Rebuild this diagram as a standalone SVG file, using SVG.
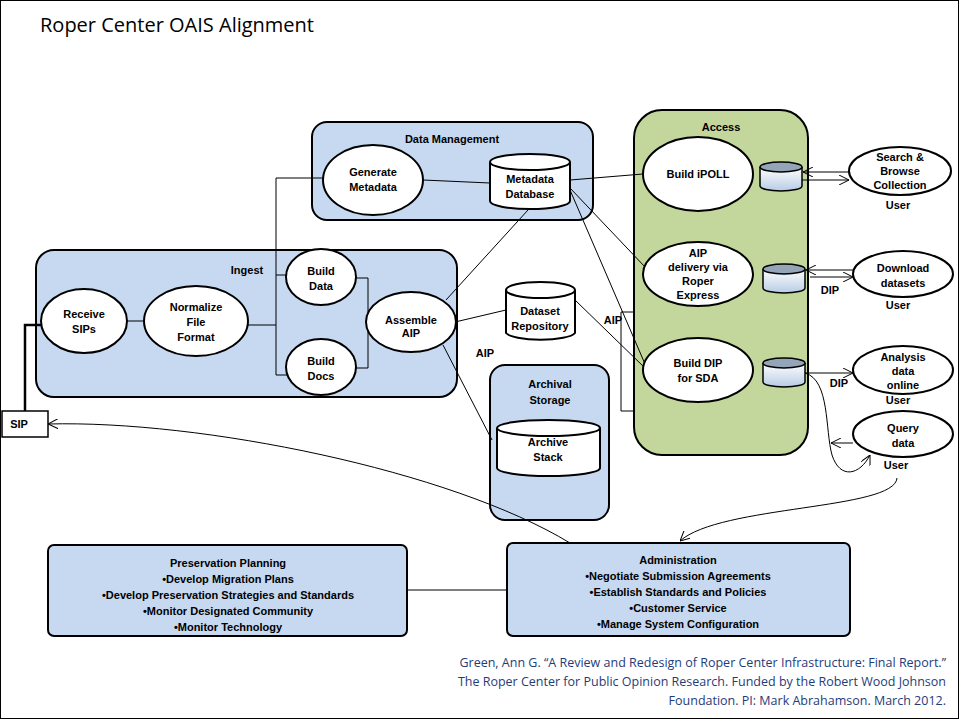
<svg xmlns="http://www.w3.org/2000/svg" width="960" height="720" viewBox="0 0 960 720">
<defs>
<linearGradient id="cg" x1="0" y1="0" x2="0" y2="1"><stop offset="0" stop-color="#ffffff"/><stop offset="1" stop-color="#b8cce4"/></linearGradient>
<marker id="ar" viewBox="0 0 10 10" refX="10" refY="5" markerWidth="10" markerHeight="10" orient="auto" markerUnits="userSpaceOnUse"><path d="M0,0 L10,5 L0,10" fill="none" stroke="#000" stroke-width="1"/></marker>
<style>
.box{fill:#c6d9f1;stroke:#000;stroke-width:2}
.el{fill:#fff;stroke:#000;stroke-width:2}
.t{font-family:"Liberation Sans",Arial,sans-serif;font-size:11px;font-weight:bold;text-anchor:middle;fill:#000}
.ln{fill:none;stroke:#000;stroke-width:1}
.cite{font-family:"Open Sans","Liberation Sans",sans-serif;font-size:12.5px;fill:#1f3c7a;text-anchor:end}
</style>
</defs>
<rect x="0" y="0" width="960" height="720" fill="#fff"/>
<rect x="0.5" y="0.5" width="958" height="718" fill="none" stroke="#000" stroke-width="1"/>
<text x="40" y="32" font-family="Open Sans,Liberation Sans,sans-serif" font-size="20" fill="#000">Roper Center OAIS Alignment</text>

<g id="datamgmt"><rect class="box" x="312" y="122" width="281" height="98" rx="15"/><text class="t" x="452" y="143">Data Management</text></g>
<g id="ingest"><rect class="box" x="36" y="250" width="421" height="147" rx="18"/><text class="t" x="247" y="274">Ingest</text></g>
<g id="archival"><rect class="box" x="490" y="365" width="119" height="155" rx="15"/><text class="t" x="550" y="388">Archival</text><text class="t" x="550" y="404">Storage</text></g>
<g id="access"><rect x="634" y="110" width="174" height="345" rx="28" fill="#c3d69b" stroke="#000" stroke-width="2"/><text class="t" x="721" y="131">Access</text></g>

<g id="connectors">
<path class="ln" d="M323,178 H276 V375 H287 M276,275 H287 M248,325 H276"/>
<path class="ln" d="M356,278 H368 V368 H356"/>
<path class="ln" d="M127,321 H144"/>
<path d="M25,411 V325 H41" fill="none" stroke="#000" stroke-width="2.5"/>
<path class="ln" d="M423,180 L490,183"/>
<path class="ln" d="M446,300 L528,210"/>
<path class="ln" d="M455,322 L506,310"/>
<path class="ln" d="M443,345 L492,440"/>
<path class="ln" d="M570,180 L643,174"/>
<path class="ln" d="M570,188 L646,268"/>
<path class="ln" d="M570,190 L645,364"/>
<path class="ln" d="M575,300 L645,368"/>
<path class="ln" d="M634,312 H621 V411 H634"/>
<path class="ln" d="M849,172 H803" marker-end="url(#ar)"/>
<path class="ln" d="M797,180 H849" marker-end="url(#ar)"/>
<path class="ln" d="M853,270 H806" marker-end="url(#ar)"/>
<path class="ln" d="M810,277 H853" marker-end="url(#ar)"/>
<path class="ln" d="M805,373 H853" marker-end="url(#ar)"/>
<path class="ln" d="M853,443 H831" marker-end="url(#ar)"/>
<path class="ln" d="M805,373 C830,380 825,430 832,455 C840,480 860,475 870,455" marker-end="url(#ar)"/>
<path class="ln" d="M897,478 C895,510 720,505 680,541" marker-end="url(#ar)"/>
<path class="ln" d="M570,543 C450,470 200,420 48,424" marker-end="url(#ar)"/>
<path class="ln" d="M407,590 H507"/>
</g>
<g id="labels">
<text class="t" x="485" y="357">AIP</text>
<text class="t" x="613" y="324">AIP</text>
<text class="t" x="830" y="294">DIP</text>
<text class="t" x="839" y="387">DIP</text>
</g>

<g id="gen"><ellipse class="el" cx="373" cy="180" rx="50" ry="35"/><text class="t" x="373" y="176">Generate</text><text class="t" x="373" y="191">Metadata</text></g>
<g id="metadb"><path class="el" d="M490,162 V201 A40,8 0 0 0 570,201 V162"/><ellipse class="el" cx="530" cy="162" rx="40" ry="8"/><text class="t" x="530" y="183">Metadata</text><text class="t" x="530" y="198">Database</text></g>
<g id="receive"><ellipse class="el" cx="84" cy="321" rx="43" ry="32"/><text class="t" x="84" y="318">Receive</text><text class="t" x="84" y="333">SIPs</text></g>
<g id="normalize"><ellipse class="el" cx="196" cy="321" rx="52" ry="35"/><text class="t" x="196" y="311">Normalize</text><text class="t" x="196" y="326">File</text><text class="t" x="196" y="341">Format</text></g>
<g id="builddata"><ellipse class="el" cx="321" cy="277" rx="35" ry="28"/><text class="t" x="321" y="275">Build</text><text class="t" x="321" y="290">Data</text></g>
<g id="builddocs"><ellipse class="el" cx="321" cy="367" rx="35" ry="28"/><text class="t" x="321" y="365">Build</text><text class="t" x="321" y="380">Docs</text></g>
<g id="assemble"><ellipse class="el" cx="411" cy="322" rx="45" ry="30"/><text class="t" x="411" y="324" font-size="10">Assemble</text><text class="t" x="411" y="337" font-size="10">AIP</text></g>
<g id="dataset"><path class="el" d="M506,290 V333 A35,8 0 0 0 575,333 V290"/><ellipse class="el" cx="540.5" cy="290" rx="34.5" ry="8"/><text class="t" x="540" y="315">Dataset</text><text class="t" x="540" y="330">Repository</text></g>
<g id="archstack"><path class="el" d="M497,428 V468 A51.5,8 0 0 0 600,468 V428"/><ellipse class="el" cx="548.5" cy="428" rx="51.5" ry="8"/><text class="t" x="548" y="446">Archive</text><text class="t" x="548" y="461">Stack</text></g>
<g id="sip"><rect x="2" y="411" width="46" height="26" fill="#fff" stroke="#000" stroke-width="1.5"/><text class="t" x="19" y="428" font-size="10">SIP</text></g>

<g id="ipoll"><ellipse class="el" cx="698" cy="174" rx="55" ry="37"/><text class="t" x="698" y="178">Build iPOLL</text></g>
<g id="aipdel"><ellipse class="el" cx="698" cy="274" rx="55" ry="32"/><text class="t" x="698" y="257">AIP</text><text class="t" x="698" y="271">delivery via</text><text class="t" x="698" y="285">Roper</text><text class="t" x="698" y="299">Express</text></g>
<g id="builddip"><ellipse class="el" cx="698" cy="370" rx="55" ry="32"/><text class="t" x="698" y="367">Build DIP</text><text class="t" x="698" y="382">for SDA</text></g>
<g id="c1"><path d="M760,167 V186 A21,5 0 0 0 802,186 V167" fill="url(#cg)" stroke="#000" stroke-width="1.5"/><ellipse cx="781" cy="167" rx="21" ry="5" fill="#95a5b8" stroke="#000" stroke-width="1.5"/></g>
<g id="c2"><path d="M763,269 V288 A21,5 0 0 0 805,288 V269" fill="url(#cg)" stroke="#000" stroke-width="1.5"/><ellipse cx="784" cy="269" rx="21" ry="5" fill="#95a5b8" stroke="#000" stroke-width="1.5"/></g>
<g id="c3"><path d="M763,363 V382 A21,5 0 0 0 805,382 V363" fill="url(#cg)" stroke="#000" stroke-width="1.5"/><ellipse cx="784" cy="363" rx="21" ry="5" fill="#95a5b8" stroke="#000" stroke-width="1.5"/></g>

<g id="search"><ellipse class="el" cx="900" cy="171" rx="51" ry="24"/><text class="t" x="900" y="161">Search &amp;</text><text class="t" x="900" y="175">Browse</text><text class="t" x="900" y="189">Collection</text><text class="t" x="898" y="209">User</text></g>
<g id="download"><ellipse class="el" cx="903" cy="274" rx="50" ry="23"/><text class="t" x="903" y="272">Download</text><text class="t" x="903" y="287">datasets</text><text class="t" x="898" y="309">User</text></g>
<g id="analysis"><ellipse class="el" cx="903" cy="370" rx="50" ry="24"/><text class="t" x="903" y="361">Analysis</text><text class="t" x="903" y="375">data</text><text class="t" x="903" y="389">online</text><text class="t" x="898" y="404">User</text></g>
<g id="query"><ellipse class="el" cx="903" cy="434" rx="50" ry="23"/><text class="t" x="903" y="432">Query</text><text class="t" x="903" y="447">data</text><text class="t" x="896" y="469">User</text></g>

<g id="preservation"><rect class="box" x="48" y="545" width="359" height="91" rx="6"/>
<text class="t" x="228" y="567">Preservation Planning</text><text class="t" x="228" y="583">•Develop Migration Plans</text><text class="t" x="228" y="599">•Develop Preservation Strategies and Standards</text><text class="t" x="228" y="615">•Monitor Designated Community</text><text class="t" x="228" y="631">•Monitor Technology</text></g>
<g id="admin"><rect class="box" x="507" y="543" width="343" height="93" rx="6"/>
<text class="t" x="678" y="564">Administration</text><text class="t" x="678" y="580">•Negotiate Submission Agreements</text><text class="t" x="678" y="596">•Establish Standards and Policies</text><text class="t" x="678" y="612">•Customer Service</text><text class="t" x="678" y="628">•Manage System Configuration</text></g>

<g id="citation">
<text class="cite" x="946" y="667">Green, Ann G. “A Review and Redesign of Roper Center Infrastructure: Final Report.”</text>
<text class="cite" x="946" y="686">The Roper Center for Public Opinion Research. Funded by the Robert Wood Johnson</text>
<text class="cite" x="946" y="705">Foundation. PI: Mark Abrahamson. March 2012.</text>
</g>
</svg>
